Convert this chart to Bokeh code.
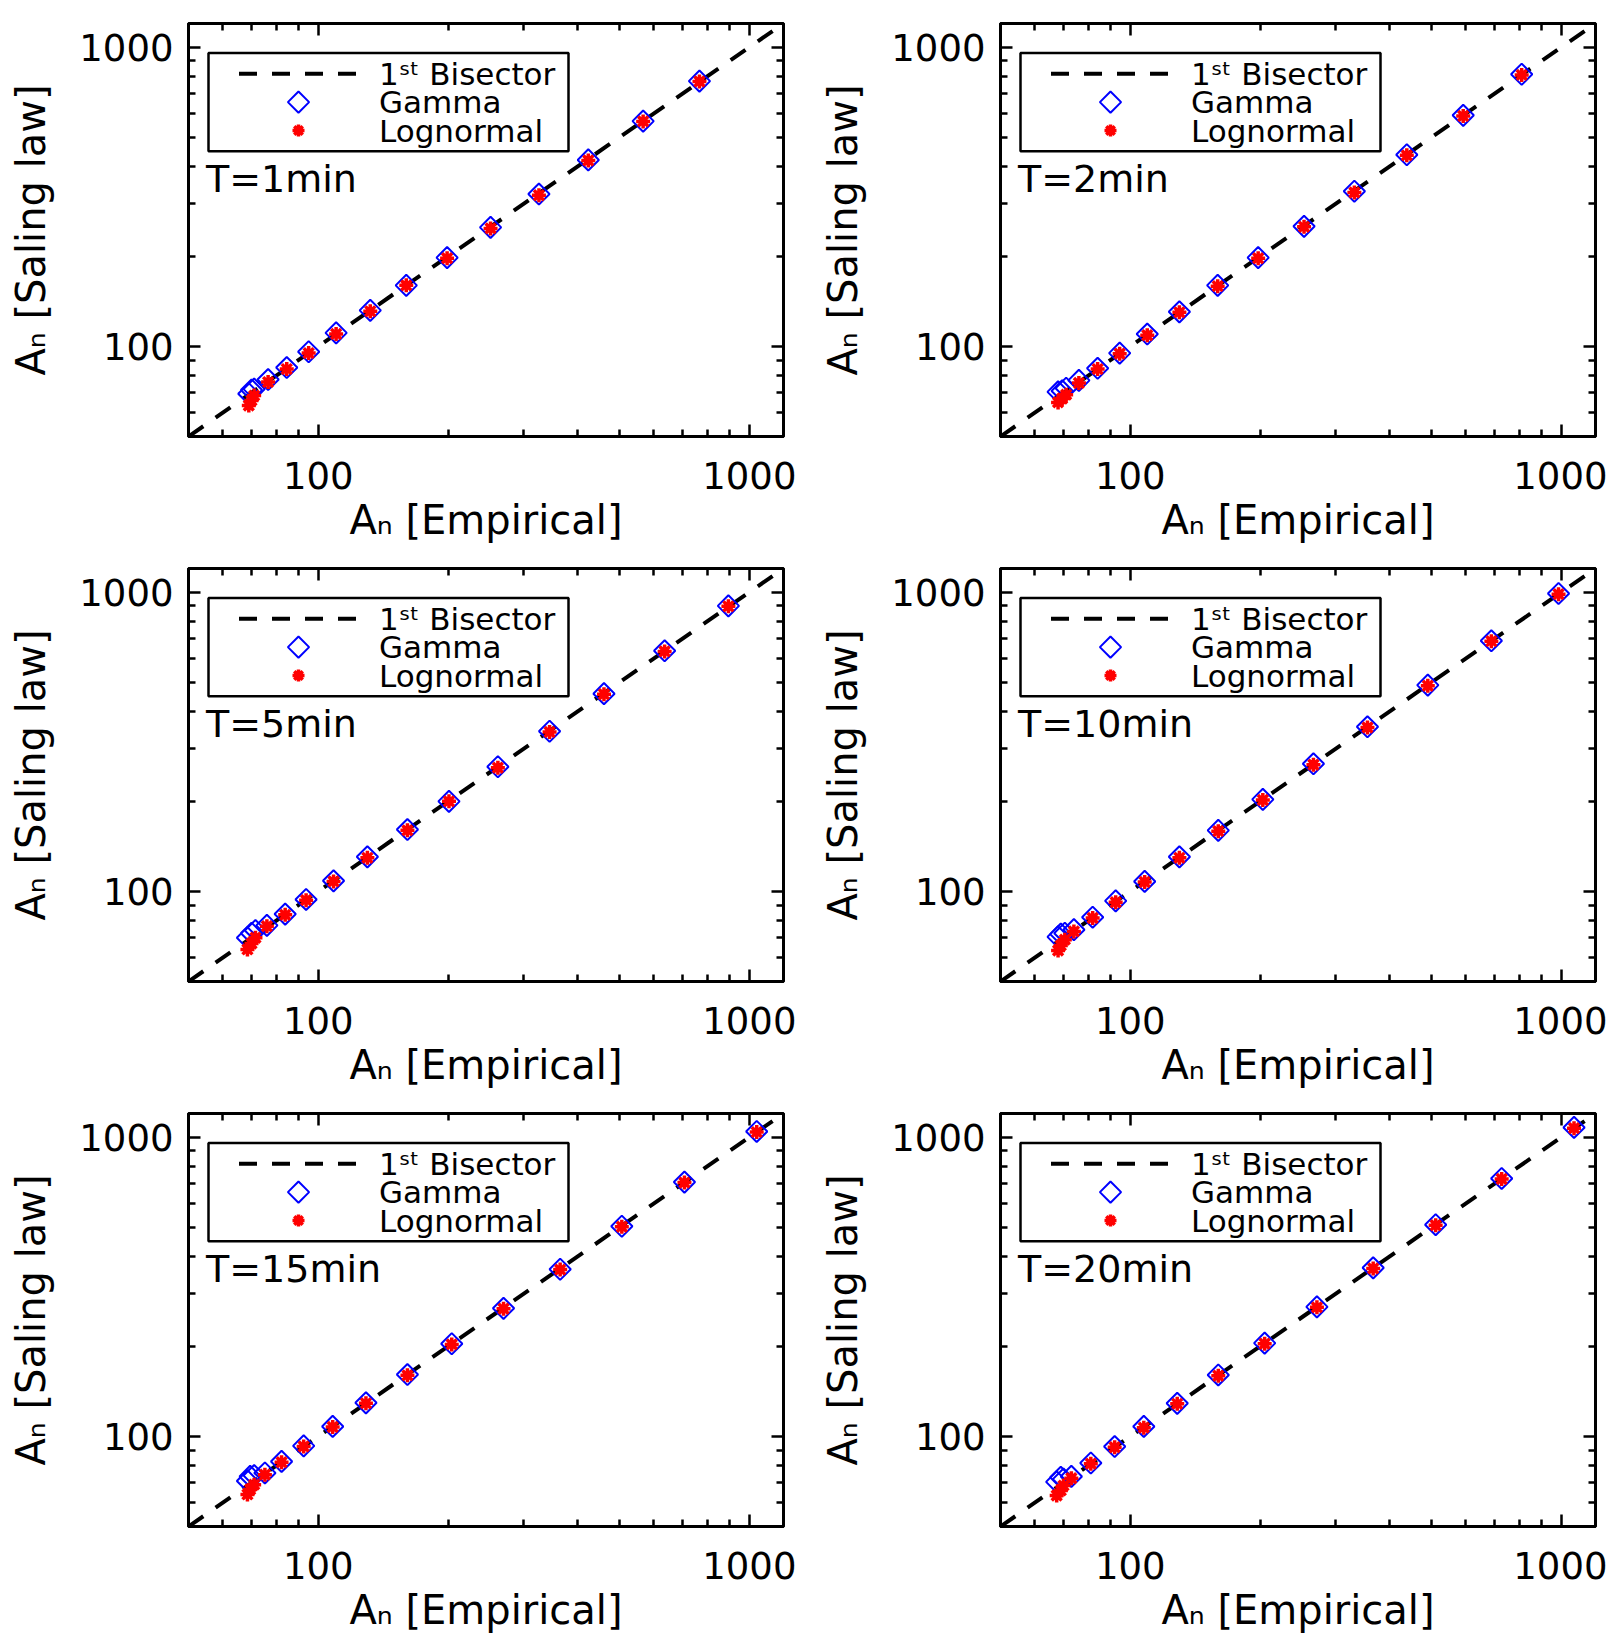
import numpy as np
from bokeh.plotting import figure
from bokeh.models import (FixedTicker, LogAxis, Range1d, Label, BoxAnnotation,
                          PrintfTickFormatter, CustomJSTickFormatter)
from bokeh.layouts import gridplot
from bokeh.embed import file_html
from bokeh.resources import INLINE

FONT = "DejaVu Sans"

# ---------------- data ----------------
panel_titles = ["T=1min", "T=2min", "T=5min", "T=10min", "T=15min", "T=20min"]

emp_1min = [69, 70, 71, 76.5, 84.5, 95, 110, 132, 160, 199, 251, 325, 423, 567, 766]
gamma_1min = [69.5, 71.5, 72, 77.5, 85, 96, 111, 132, 160, 198, 250, 323, 420, 566, 770]
logn_1min = [63.5, 66, 68.5, 76, 84, 95, 110, 131, 160, 197, 248, 320, 418, 565, 768]

emp_2min = [68, 69.5, 71, 76, 84, 94.5, 109.5, 130, 159.5, 198, 253, 331, 438, 592, 809]
gamma_2min = [70.5, 71, 72.5, 77, 84.5, 95, 110, 130.5, 160, 198, 252, 330, 437, 592, 812]
logn_2min = [65, 67, 69, 75.5, 84, 94.5, 109, 130, 159, 197, 251, 327, 435, 589, 808]

emp_5min = [68.5, 70, 71.5, 76, 83.8, 93.7, 108.5, 130, 161, 201, 261, 344, 460, 636, 894]
gamma_5min = [70, 72.5, 74, 77, 84, 94, 108.5, 130.5, 161, 200, 261, 343, 458, 637, 900]
logn_5min = [64, 67, 70, 76.5, 83.5, 93.5, 108, 129.5, 160, 200, 259, 341, 456, 634, 897]

emp_10min = [68, 69, 70.5, 74, 81.8, 92.5, 108, 130, 160, 203, 266, 355, 490, 688, 985]
gamma_10min = [70.5, 72, 72.5, 74.5, 82, 93, 108, 130.5, 160, 203, 267, 355, 489, 688, 990]
logn_10min = [63.5, 66, 69, 73.5, 81.5, 92, 107.5, 129.5, 159, 202, 265, 353, 487, 686, 985]

emp_15min = [68.5, 69.5, 71, 75.2, 82.2, 92.5, 108, 129, 161, 204, 269, 364, 506, 707, 1040]
gamma_15min = [71, 73.5, 74, 75.5, 82.5, 93, 108, 129.5, 161, 204, 268, 362, 504, 708, 1045]
logn_15min = [64, 66.5, 69, 74.5, 82, 92.5, 107.5, 129, 160, 203, 267, 361, 502, 705, 1040]

emp_20min = [67.5, 69, 70, 73, 81, 92, 107.5, 128.5, 160, 205, 271, 366, 511, 727, 1070]
gamma_20min = [70.5, 73, 72, 73.5, 81.5, 92.5, 108, 129, 160.5, 205, 271, 366, 510, 728, 1078]
logn_20min = [63.5, 66, 68.5, 72.5, 81, 92, 107, 128.5, 159.5, 204, 270, 364, 508, 725, 1072]

emp_all = [emp_1min, emp_2min, emp_5min, emp_10min, emp_15min, emp_20min]
gamma_all = [gamma_1min, gamma_2min, gamma_5min, gamma_10min, gamma_15min, gamma_20min]
logn_all = [logn_1min, logn_2min, logn_5min, logn_10min, logn_15min, logn_20min]

major_ticks = [100, 1000]
minor_ticks = [50, 60, 70, 80, 90, 200, 300, 400, 500, 600, 700, 800, 900]
axis_min, axis_max = 50, 1200

x_label = "A\u2099 [Empirical]"
y_label = "A\u2099 [Saling law]"
legend_labels = ["1\u02e2\u1d57 Bisector", "Gamma", "Lognormal"]

# ---------------- layout ----------------
FW, FH = 595, 413
LMIN, LMAX = np.log10(axis_min), np.log10(axis_max)


def dx(sx):
    return 10 ** (LMIN + sx / FW * (LMAX - LMIN))


def dy(sy):
    return 10 ** (LMAX - sy / FH * (LMAX - LMIN))


def style_axis(ax, labels=True):
    ax.ticker = FixedTicker(ticks=major_ticks, minor_ticks=minor_ticks)
    ax.major_tick_in = 12
    ax.major_tick_out = 0
    ax.minor_tick_in = 7
    ax.minor_tick_out = 0
    ax.axis_line_width = 3
    ax.axis_line_color = "black"
    ax.major_tick_line_width = 2.5
    ax.minor_tick_line_width = 2.5
    ax.major_tick_line_color = "black"
    ax.minor_tick_line_color = "black"
    if labels:
        ax.formatter = PrintfTickFormatter(format="%d")
        ax.major_label_text_font = FONT
        ax.major_label_text_font_size = "37px"
        ax.major_label_text_color = "black"
        ax.axis_label_text_font = FONT
        ax.axis_label_text_font_size = "40px"
        ax.axis_label_text_font_style = "normal"
        ax.axis_label_text_color = "black"
    else:
        ax.formatter = CustomJSTickFormatter(code="return ''")
        ax.major_label_text_font_size = "1px"
        ax.major_label_standoff = 0


def make_panel(i, col, row):
    left = 188 if col == 0 else 197
    right = 20 if col == 0 else 12
    top = 23 if row == 0 else 15
    p = figure(width=left + FW + right, height=top + FH + 117,
               x_axis_type="log", y_axis_type="log",
               x_range=Range1d(axis_min, axis_max), y_range=Range1d(axis_min, axis_max),
               output_backend="svg", toolbar_location=None,
               min_border_left=left, min_border_right=right,
               min_border_top=top, min_border_bottom=117)
    p.xgrid.visible = False
    p.ygrid.visible = False
    p.outline_line_color = "black"
    p.outline_line_width = 3
    p.background_fill_color = "white"
    p.border_fill_color = "white"

    xa = p.xaxis[0]
    ya = p.yaxis[0]
    style_axis(xa)
    style_axis(ya)
    xa.axis_label = x_label
    ya.axis_label = y_label
    xa.major_label_standoff = 25
    xa.axis_label_standoff = 5
    ya.major_label_standoff = 15
    ya.axis_label_standoff = 22

    for loc in ["above", "right"]:
        ax = LogAxis()
        style_axis(ax, labels=False)
        p.add_layout(ax, loc)

    # first bisector
    p.line([axis_min, axis_max], [axis_min, axis_max], line_color="black",
           line_width=4, line_dash="18 15")
    # data
    p.scatter(emp_all[i], gamma_all[i], marker="square", angle=np.pi / 4, size=15,
              fill_color=None, line_color="#0000ff", line_width=2)
    p.scatter(emp_all[i], logn_all[i], marker="asterisk", size=14,
              line_color="#ff0000", line_width=3.5)

    # legend (drawn inside the frame)
    p.add_layout(BoxAnnotation(left=dx(20), right=dx(380), top=dy(29.4), bottom=dy(127.8),
                               fill_color=None, fill_alpha=0, line_color="black",
                               line_alpha=1.0, line_width=2.5))
    p.line([dx(50.5), dx(167.5)], [dy(50.3), dy(50.3)], line_color="black",
           line_width=4, line_dash="18 15")
    p.scatter([dx(110)], [dy(78.6)], marker="square", angle=np.pi / 4, size=15,
              fill_color=None, line_color="#0000ff", line_width=2)
    p.scatter([dx(110)], [dy(107)], marker="asterisk", size=12,
              line_color="#ff0000", line_width=3.5)
    for txt, sy in zip(legend_labels, [50.3, 78.6, 107]):
        p.add_layout(Label(x=dx(190.5), y=dy(sy), text=txt, text_baseline="middle",
                           text_align="left", text_font=FONT, text_font_size="31px",
                           text_color="black"))
    p.add_layout(Label(x=dx(17.5), y=dy(155), text=panel_titles[i], text_baseline="middle",
                       text_align="left", text_font=FONT, text_font_size="38px",
                       text_color="black"))
    return p


panels = [make_panel(i, i % 2, i // 2) for i in range(6)]
grid = gridplot([[panels[0], panels[1]], [panels[2], panels[3]], [panels[4], panels[5]]],
                toolbar_location=None)

open("out.html", "w").write(file_html(grid, INLINE))
